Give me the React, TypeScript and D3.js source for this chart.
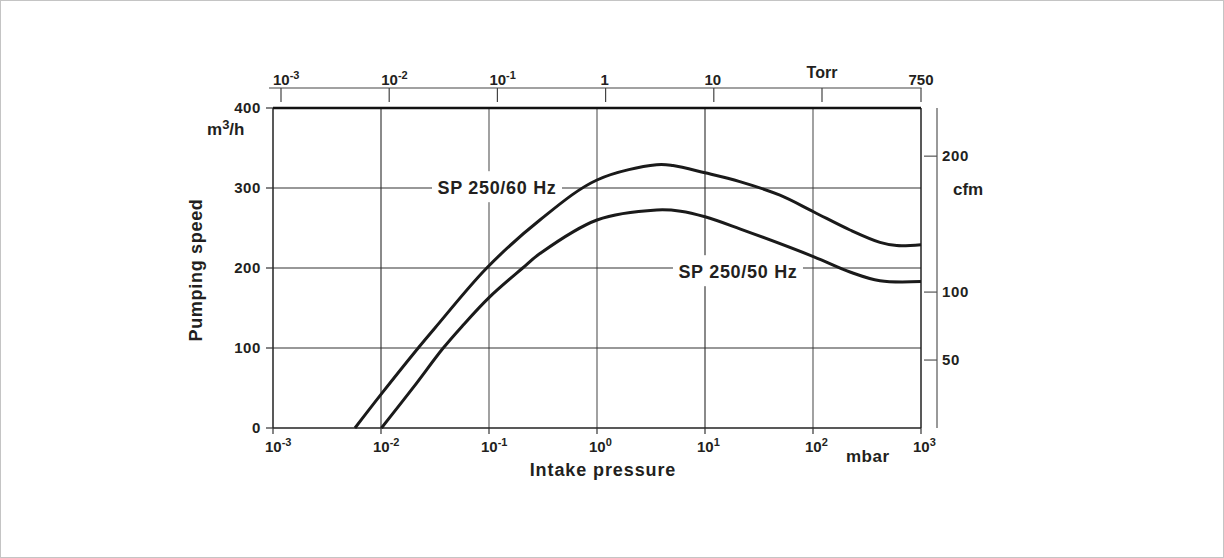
import React from 'react';
import * as d3 from 'd3';

// Intake pressure (mbar) vs pumping speed (m3/h)
const pressure60 = [0.00574, 0.01, 0.0221, 0.0316, 0.0953, 0.296, 1, 3.57, 5.06, 10, 21, 49.4, 102, 220, 417, 596, 1000];
const speed60 = [0, 42, 100, 125, 200, 260, 310, 329, 328, 319, 308, 291, 270, 247.5, 232, 228, 229];

const pressure50 = [0.0101, 0.02, 0.0372, 0.0562, 0.1, 0.205, 0.296, 1, 3.57, 5.95, 10, 21, 102, 220, 417, 1000];
const speed50 = [0, 51, 99, 127, 163, 200, 218, 260, 272.5, 271, 264, 249, 214, 195, 184, 183];

const seriesNames = ['SP 250/60 Hz', 'SP 250/50 Hz'];
// where each series name sits (mbar, m3/h)
const labelPressure = [0.1186, 20.2];
const labelSpeed = [301, 196];

const mbarExponents = [-3, -2, -1, 0, 1, 2, 3];
const speedTicks = [0, 100, 200, 300, 400];
const torrTicks = [1e-3, 1e-2, 1e-1, 1, 10, 100];
const torrLabels = ['10|-3', '10|-2', '10|-1', '1', '10', 'Torr'];
const cfmTicks = [50, 100, 200];
const CFM_TO_M3H = 1.699;

const FONT = '"Liberation Sans", Arial, Helvetica, sans-serif';
const INK = '#231f20';

const W = 1224;
const H = 558;

const App: React.FC = () => {
  const x = d3.scaleLog().domain([1e-3, 1e3]).range([273, 921]);
  const y = d3.scaleLinear().domain([0, 400]).range([428, 108]);
  // Torr scale drawn as in the original sheet (750 Torr sits at the 1000 mbar end)
  const xTorr = d3.scaleLog().domain([1e-3, 100]).range([281, 822]);

  const line = d3
    .line<[number, number]>()
    .x(d => x(d[0]))
    .y(d => y(d[1]))
    .curve(d3.curveCatmullRom.alpha(0.5));

  const curves = [
    line(pressure60.map((p, i) => [p, speed60[i]])) || '',
    line(pressure50.map((p, i) => [p, speed50[i]])) || '',
  ];

  const plotL = x(1e-3);
  const plotR = x(1e3);
  const plotT = y(400);
  const plotB = y(0);
  const topAxisY = 88;
  const cfmX = 937;

  const supLabel = (base: string, sup: string | null, cx: number, cy: number, key: string) => (
    <text key={key} x={cx - 8} y={cy} fontSize={15} fontWeight="bold" fill={INK} fontFamily={FONT}>
      <tspan>{base}</tspan>
      {sup && (
        <tspan dy={-6} fontSize={11}>
          {sup}
        </tspan>
      )}
    </text>
  );

  return (
    <div style={{ position: 'absolute', left: 0, top: 0, width: W, height: H, background: '#fff' }}>
      <svg width={W} height={H} viewBox={`0 0 ${W} ${H}`} style={{ display: 'block' }}>
        <rect x={0.5} y={0.5} width={W - 1} height={H - 1} fill="#fff" stroke="#c4c4c4" />

        {/* vertical grid */}
        {mbarExponents.slice(1, -1).map(e => (
          <line
            key={`vg${e}`}
            x1={x(Math.pow(10, e))}
            x2={x(Math.pow(10, e))}
            y1={plotT}
            y2={plotB}
            stroke={e === -2 || e === 1 ? '#2a2a2a' : '#555'}
            strokeWidth={1.1}
          />
        ))}
        {/* horizontal grid */}
        {speedTicks.slice(1, -1).map(s => (
          <line key={`hg${s}`} x1={plotL} x2={plotR} y1={y(s)} y2={y(s)} stroke="#333" strokeWidth={1.1} />
        ))}

        {/* frame */}
        <line x1={plotL} x2={plotL} y1={plotT} y2={plotB} stroke="#222" strokeWidth={1.5} />
        <line x1={plotR} x2={plotR} y1={plotT} y2={plotB} stroke="#222" strokeWidth={1.5} />
        <line x1={plotL} x2={plotR} y1={plotB} y2={plotB} stroke="#222" strokeWidth={1.5} />
        <line x1={plotL} x2={plotR} y1={plotT} y2={plotT} stroke="#111" strokeWidth={2.4} />

        {/* series labels with white backing that breaks the grid */}
        {seriesNames.map((name, i) => {
          const cx = x(labelPressure[i]);
          const cy = y(labelSpeed[i]);
          return (
            <g key={name}>
              <rect x={cx - 65} y={cy - 16} width={130} height={31} fill="#fff" />
              <text
                x={cx}
                y={cy + 7}
                textAnchor="middle"
                fontSize={18}
                fontWeight="bold"
                letterSpacing={0.7}
                fill={INK}
                fontFamily={FONT}
              >
                {name}
              </text>
            </g>
          );
        })}

        {/* curves */}
        {curves.map((d, i) => (
          <path key={`c${i}`} d={d} fill="none" stroke="#1a1a1a" strokeWidth={3} strokeLinejoin="round" />
        ))}

        {/* left axis */}
        {speedTicks.map(s => (
          <g key={`yl${s}`}>
            <line x1={plotL - 7} x2={plotL} y1={y(s)} y2={y(s)} stroke="#333" strokeWidth={1.2} />
            <text
              x={plotL - 12}
              y={y(s) + 5}
              textAnchor="end"
              fontSize={15}
              fontWeight="bold"
              letterSpacing={0.6}
              fill={INK}
              fontFamily={FONT}
            >
              {s}
            </text>
          </g>
        ))}
        <text x={207} y={135} fontSize={17} fontWeight="bold" fill={INK} fontFamily={FONT}>
          <tspan>m</tspan>
          <tspan dy={-6} fontSize={13}>
            3
          </tspan>
          <tspan dy={6}>/h</tspan>
        </text>
        <text
          transform={`translate(202, ${(plotT + plotB) / 2 + 2}) rotate(-90)`}
          textAnchor="middle"
          fontSize={18}
          fontWeight="bold"
          letterSpacing={0.7}
          fill={INK}
          fontFamily={FONT}
        >
          Pumping speed
        </text>

        {/* bottom axis */}
        {mbarExponents.map(e => {
          const px = x(Math.pow(10, e));
          return (
            <g key={`xb${e}`}>
              <line x1={px} x2={px} y1={plotB} y2={plotB + 6} stroke="#333" strokeWidth={1.2} />
              {supLabel('10', String(e), px, 452, `xbl${e}`)}
            </g>
          );
        })}
        <text x={846} y={462} fontSize={17} fontWeight="bold" letterSpacing={0.5} fill={INK} fontFamily={FONT}>
          mbar
        </text>
        <text
          x={603}
          y={476}
          textAnchor="middle"
          fontSize={18}
          fontWeight="bold"
          letterSpacing={0.9}
          fill={INK}
          fontFamily={FONT}
        >
          Intake pressure
        </text>

        {/* top Torr axis */}
        <line x1={269} x2={plotR + 0.5} y1={topAxisY} y2={topAxisY} stroke="#444" strokeWidth={1.2} />
        {torrTicks.map((t, i) => {
          const px = xTorr(t);
          const [base, sup] = torrLabels[i].split('|');
          return (
            <g key={`xt${t}`}>
              <line x1={px} x2={px} y1={topAxisY} y2={topAxisY + 14} stroke="#444" strokeWidth={1.2} />
              {base === 'Torr' ? (
                <text x={px} y={78} textAnchor="middle" fontSize={16} fontWeight="bold" fill={INK} fontFamily={FONT}>
                  Torr
                </text>
              ) : sup ? (
                supLabel(base, sup, px, 85, `xtl${t}`)
              ) : (
                <text x={px - 1} y={85} textAnchor="middle" fontSize={15} fontWeight="bold" fill={INK} fontFamily={FONT}>
                  {base}
                </text>
              )}
            </g>
          );
        })}
        <line x1={plotR} x2={plotR} y1={topAxisY} y2={topAxisY + 14} stroke="#444" strokeWidth={1.2} />
        <text x={plotR} y={85} textAnchor="middle" fontSize={15} fontWeight="bold" fill={INK} fontFamily={FONT}>
          750
        </text>

        {/* right cfm axis */}
        <line x1={cfmX} x2={cfmX} y1={plotT} y2={plotB} stroke="#555" strokeWidth={1.2} />
        {cfmTicks.map(c => {
          const py = y(c * CFM_TO_M3H);
          return (
            <g key={`cfm${c}`}>
              <line x1={cfmX - 13} x2={cfmX} y1={py} y2={py} stroke="#555" strokeWidth={1.2} />
              <text x={cfmX + 5} y={py + 5} fontSize={15} fontWeight="bold" letterSpacing={0.6} fill={INK} fontFamily={FONT}>
                {c}
              </text>
            </g>
          );
        })}
        <text x={953} y={195} fontSize={17} fontWeight="bold" fill={INK} fontFamily={FONT}>
          cfm
        </text>
      </svg>
    </div>
  );
};

export default App;
